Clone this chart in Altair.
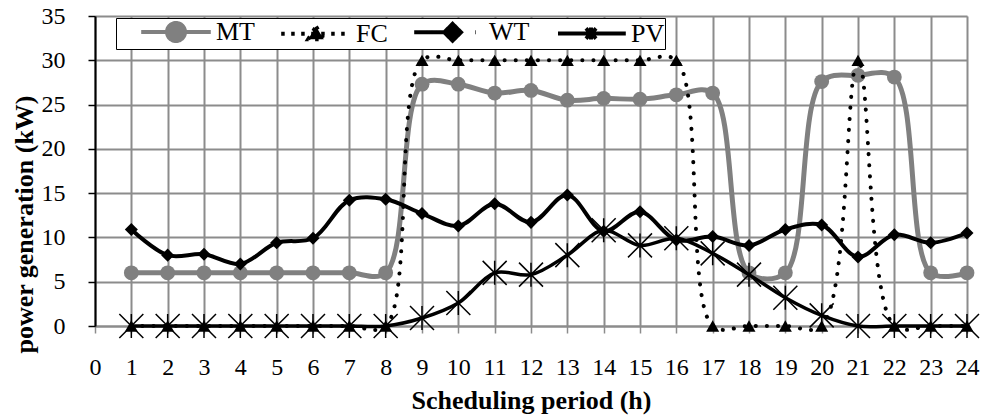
import altair as alt
import pandas as pd

periods = list(range(1, 25))
series_names = ["MT", "FC", "WT", "PV"]
mt = [6, 6, 6, 6, 6, 6, 6, 6, 27.3, 27.3, 26.3, 26.6, 25.5, 25.7, 25.6, 26.1,
      26.3, 6, 6, 27.6, 28.3, 28.1, 6, 6]
fc = [0, 0, 0, 0, 0, 0, 0, 0, 30, 30, 30, 30, 30, 30, 30, 30,
      0, 0, 0, 0, 30, 0, 0, 0]
wt = [10.9, 8.0, 8.1, 7.0, 9.4, 9.9, 14.2, 14.3, 12.7, 11.3, 13.8, 11.7, 14.8, 10.7,
      12.9, 9.7, 10.1, 9.1, 10.9, 11.4, 7.8, 10.3, 9.4, 10.5]
pv = [0, 0, 0, 0, 0, 0, 0, 0, 0.9, 2.6, 6.0, 5.8, 8.0, 10.8, 9.1, 9.9,
      8.2, 5.8, 3.2, 1.2, 0, 0, 0, 0]
x_ticks = list(range(0, 25))
y_ticks = list(range(0, 36, 5))

GRAY = "#808080"
GRID = "#8c8c8c"
BLACK = "#000000"
FONT = "Liberation Serif"

rows = []
for name, vals in zip(series_names, [mt, fc, wt, pv]):
    for p, v in zip(periods, vals):
        rows.append({"period": p, "series": name, "value": v})
df = pd.DataFrame(rows)

x_enc = alt.X("period:Q", scale=alt.Scale(domain=[0, 24], nice=False, zero=False),
              axis=alt.Axis(values=x_ticks, title="Scheduling period (h)", format="d",
                            domainColor=GRID, tickColor=GRID, tickSize=7, tickWidth=1.5,
                            labelPadding=22, labelFontSize=24, labelFont=FONT,
                            labelColor=BLACK, labelFlush=False, labelOverlap=False,
                            titleFont=FONT, titleFontSize=26, titleFontWeight="bold",
                            titleColor=BLACK, titleX=436, titleY=74,
                            titleBaseline="middle", titleAlign="center",
                            gridColor=GRID, gridWidth=2, domainWidth=2))
y_enc = alt.Y("value:Q", scale=alt.Scale(domain=[0, 35], nice=False),
              axis=alt.Axis(values=y_ticks, title="power generation (kW)",
                            domainColor=BLACK, tickColor=BLACK, tickSize=7,
                            domainWidth=2, tickWidth=1.5,
                            labelPadding=23, labelFontSize=24, labelFont=FONT,
                            labelColor=BLACK,
                            titleFont=FONT, titleFontSize=26, titleFontWeight="bold",
                            titleColor=BLACK, titleAngle=270, titleX=-71, titleY=208,
                            titleAlign="center", titleBaseline="middle",
                            gridColor=GRID, gridWidth=2))

base = alt.Chart(df)

ASTERISK = "M-1,-1L1,1M-1,1L1,-1M0,-1L0,1"


def line_layer(name, color, width, dash=None):
    kw = dict(interpolate="catmull-rom", color=color, strokeWidth=width, strokeCap="round")
    if dash is not None:
        kw["strokeDash"] = dash
    return base.transform_filter(alt.datum.series == name).mark_line(**kw).encode(x=x_enc, y=y_enc)


def point_layer(name, **kw):
    return base.transform_filter(alt.datum.series == name).mark_point(opacity=1, **kw).encode(x=x_enc, y=y_enc)


mt_line = line_layer("MT", GRAY, 5)
mt_pts = point_layer("MT", shape="circle", filled=True, size=220, color=GRAY)
fc_line = line_layer("FC", BLACK, 4, dash=[0.1, 11])
fc_pts = point_layer("FC", shape="triangle-up", filled=True, size=170, color=BLACK)
pv_line = line_layer("PV", BLACK, 3.5)
pv_pts = point_layer("PV", shape=ASTERISK, filled=False, size=576, color=BLACK, strokeWidth=1.5)
wt_line = line_layer("WT", BLACK, 4)
wt_pts = point_layer("WT", shape="diamond", filled=True, size=170, color=BLACK)

# legend symbols: line segment with the marker on it (1 unit = sqrt(576)/2 = 12px)
legend_paths = [
    "M-2.9,0L2.9,0M0.75,0A0.75,0.75,0,1,1,-0.75,0A0.75,0.75,0,1,1,0.75,0Z",
    "M-2.9,0L2.5,0M0,-0.6L0.65,0.45L-0.65,0.45Z",
    "M-2.9,0L0.3,0M0.3,-0.7L1.0,0L0.3,0.7L-0.4,0ZM2.2,0L2.25,0",
    "M-2.75,0L2.9,0M-0.42,-0.42L0.42,0.42M-0.42,0.42L0.42,-0.42M0,-0.5L0,0.5",
]
leg = alt.Legend(title=None, orient="none", legendX=21, legendY=2, direction="horizontal",
                 columns=4, symbolSize=576, symbolStrokeWidth=4, symbolOffset=46,
                 labelOffset=26, columnPadding=1, labelFont=FONT, labelFontSize=26,
                 labelColor=BLACK, fillColor="white", strokeColor=BLACK, padding=0,
                 labelBaseline="middle",
                 labelExpr="datum.label == 'PV' ? 'PV\u00a0\u00a0\u00a0\u00a0' : datum.label")
leg_df = pd.DataFrame({"series": series_names})
legend_layer = alt.Chart(leg_df).transform_filter("false").mark_point(
    filled=True, opacity=1, strokeWidth=4).encode(
    shape=alt.Shape("series:N", scale=alt.Scale(domain=series_names, range=legend_paths), legend=leg),
    fill=alt.Fill("series:N", scale=alt.Scale(domain=series_names, range=[GRAY, BLACK, BLACK, BLACK]), legend=leg),
    stroke=alt.Stroke("series:N", scale=alt.Scale(domain=series_names, range=[GRAY, BLACK, BLACK, BLACK]), legend=leg),
    strokeDash=alt.StrokeDash("series:N", scale=alt.Scale(domain=series_names,
                              range=[[1, 0], [3.5, 6.5], [1, 0], [1, 0]]), legend=leg),
)

chart = alt.layer(
    mt_line, mt_pts, fc_line, fc_pts, pv_line, pv_pts, wt_line, wt_pts, legend_layer
).properties(
    width=872, height=310,
    autosize=alt.AutoSizeParams(type="none"),
    padding={"left": 95, "top": 16, "right": 17, "bottom": 89},
).configure_view(
    stroke=BLACK, strokeWidth=2
).configure(background="white")

chart.save("out.html", embed_options={"renderer": "svg", "actions": False})
